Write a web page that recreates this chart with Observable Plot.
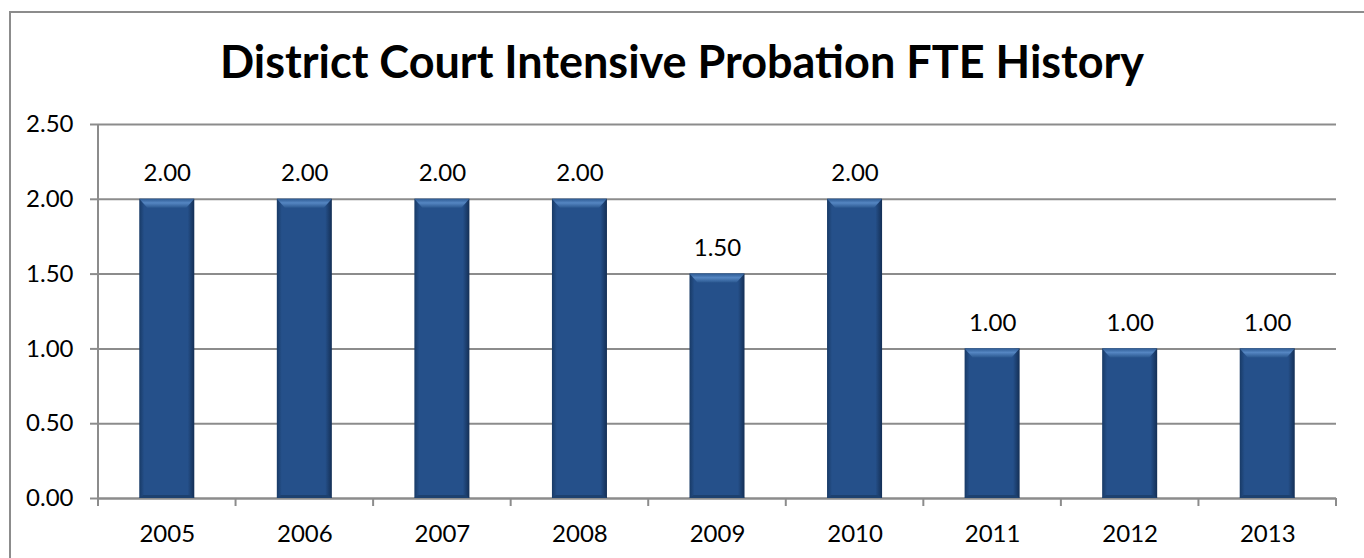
<!DOCTYPE html>
<html>
<head>
<meta charset="utf-8">
<script src="https://cdn.jsdelivr.net/npm/d3@7"></script>
<script src="https://cdn.jsdelivr.net/npm/@observablehq/plot@0.6"></script>
<style>
  html, body { margin: 0; padding: 0; background: #fff; }
  body { width: 1364px; height: 558px; overflow: hidden; position: relative; font-family: Lato, "Open Sans", sans-serif; }
  #frame { position: absolute; left: 9px; top: 11px; width: 1400px; height: 600px; border-left: 2px solid #8c8c8c; border-top: 2px solid #8c8c8c; box-sizing: border-box; }
  #title { position: absolute; left: 0; top: 0; width: 1364px; height: 100px; text-align: center; font-family: Lato, sans-serif; font-weight: 700; font-size: 45px; line-height: 1; padding-top: 39px; box-sizing: border-box; color: #000; }
  #chart { position: absolute; left: 0; top: 100px; }
</style>
</head>
<body>
<div id="frame"></div>
<div id="title">District Court Intensive Probation FTE History</div>
<div id="chart"></div>
<script>
const years = ["2005", "2006", "2007", "2008", "2009", "2010", "2011", "2012", "2013"];
const fte = [2.00, 2.00, 2.00, 2.00, 1.50, 2.00, 1.00, 1.00, 1.00];
const yTicks = [0, 0.5, 1, 1.5, 2, 2.5];

const data = years.map((y, i) => ({year: y, value: fte[i]}));

const boundaryTicks = (index, scales, values, dimensions) => {
  const x = scales.x, y = scales.y;
  const step = x.bandwidth() / 0.4;
  const g = d3.create("svg:g");
  const y0 = y(0);
  const xs = years.map(d => x(d) + x.bandwidth() / 2 - step / 2);
  xs.push(x(years[years.length - 1]) + x.bandwidth() / 2 + step / 2);
  for (const xx of xs) {
    g.append("line").attr("x1", xx).attr("x2", xx).attr("y1", y0).attr("y2", y0 + 8)
      .attr("stroke", "#8c8c8c").attr("stroke-width", 2);
  }
  g.append("line").attr("x1", dimensions.marginLeft).attr("x2", dimensions.marginLeft)
    .attr("y1", y(2.5)).attr("y2", y0 + 8).attr("stroke", "#8c8c8c").attr("stroke-width", 2);
  return g.node();
};

// bevel decoration drawn from the data through the scales
const bevels = (index, scales) => {
  const x = scales.x, y = scales.y;
  const bw = x.bandwidth();
  const g = d3.create("svg:g");
  for (const d of data) {
    const x0 = x(d.year), x1 = x0 + bw, yt = y(d.value), yb = y(0);
    const b = 8, s = 4, bb = 3;
    g.append("polygon").attr("points", `${x0},${yt} ${x1},${yt} ${x1 - b},${yt + 9} ${x0 + b},${yt + 9}`)
      .attr("fill", "url(#bevelGrad)");
    g.append("polygon").attr("points", `${x0},${yb} ${x1},${yb} ${x1 - s},${yb - bb} ${x0 + s},${yb - bb}`)
      .attr("fill", "#1d416f");
  }
  return g.node();
};

const chart = Plot.plot({
  width: 1364,
  height: 458,
  marginTop: 24,
  marginBottom: 60,
  marginLeft: 98,
  marginRight: 28,
  style: {fontFamily: "Lato, sans-serif", fontSize: "24px", color: "#000", background: "transparent"},
  x: {domain: years, paddingInner: 0.6, paddingOuter: 0.3, round: false, label: null},
  y: {domain: [0, 2.5], label: null},
  marks: [
    Plot.gridY(yTicks, {stroke: "#8c8c8c", strokeOpacity: 1, strokeWidth: 2}),
    Plot.axisY(yTicks, {tickSize: 8, tickPadding: 17, tickFormat: d3.format(".2f"), stroke: "#8c8c8c", strokeWidth: 2, fontSize: 24, fill: "#000"}),
    Plot.axisX({tickSize: 0, tickPadding: 26, fontSize: 24, fill: "#000"}),
    Plot.ruleY([0], {stroke: "#8c8c8c", strokeWidth: 2}),
    boundaryTicks,
    Plot.barY(data, {x: "year", y: "value", fill: "url(#barGrad)", style: "filter:url(#shadow)"}),
    bevels,
    Plot.text(data, {x: "year", y: "value", text: d => d3.format(".2f")(d.value), dy: -26, fontSize: 24, fill: "#000"})
  ]
});

const defs = d3.select(chart).insert("defs", ":first-child");
const bg = defs.append("linearGradient").attr("id", "barGrad").attr("x1", 0).attr("x2", 1).attr("y1", 0).attr("y2", 0);
bg.append("stop").attr("offset", "0%").attr("stop-color", "#183a66");
bg.append("stop").attr("offset", "9%").attr("stop-color", "#25508a");
bg.append("stop").attr("offset", "88%").attr("stop-color", "#25508a");
bg.append("stop").attr("offset", "100%").attr("stop-color", "#142f55");
const vg = defs.append("linearGradient").attr("id", "bevelGrad").attr("x1", 0).attr("x2", 0).attr("y1", 0).attr("y2", 1);
vg.append("stop").attr("offset", "0%").attr("stop-color", "#2d5a93");
vg.append("stop").attr("offset", "45%").attr("stop-color", "#5586c2");
vg.append("stop").attr("offset", "100%").attr("stop-color", "#2b5890");
const f = defs.append("filter").attr("id", "shadow").attr("x", "-20%").attr("y", "-5%").attr("width", "140%").attr("height", "110%");
f.append("feDropShadow").attr("dx", 1.5).attr("dy", 1.5).attr("stdDeviation", 1.5).attr("flood-color", "#000").attr("flood-opacity", 0.3);

document.getElementById("chart").appendChild(chart);
</script>
</body>
</html>
